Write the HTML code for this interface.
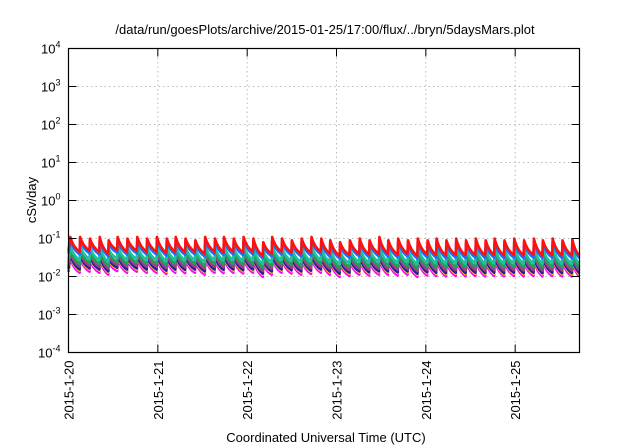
<!DOCTYPE html>
<html><head><meta charset="utf-8"><style>
html,body{margin:0;padding:0;background:#fff;}
svg{display:block;font-family:"Liberation Sans",sans-serif;}
</style></head><body>
<svg id="chart" width="640" height="448" viewBox="0 0 640 448" xmlns="http://www.w3.org/2000/svg">
<rect x="0" y="0" width="640" height="448" fill="#fff"/>
<text x="325" y="34" font-size="13" text-anchor="middle" fill="#000">/data/run/goesPlots/archive/2015-01-25/17:00/flux/../bryn/5daysMars.plot</text>
<text x="0" y="0" font-size="13" text-anchor="middle" transform="translate(36,200) rotate(-90)">cSv/day</text>
<text x="326" y="442" font-size="13" text-anchor="middle">Coordinated Universal Time (UTC)</text>
<g id="grid"></g>
<g id="series"></g>
<rect x="68.5" y="48.5" width="511" height="304" fill="none" stroke="#000" stroke-width="1.2"/>
<g id="ticks"></g>
</svg>
<script>
const yExponents = [-4,-3,-2,-1,0,1,2,3,4];
const xTickLabels = ["2015-1-20","2015-1-21","2015-1-22","2015-1-23","2015-1-24","2015-1-25"];
const xTickDays = [0,1,2,3,4,5];
const toothTimes = [0.02,0.13,0.24,0.35,0.45,0.55,0.66,0.77,0.88,0.99,1.10,1.20,1.31,1.42,1.53,1.64,1.74,1.85,1.96,2.07,2.18,2.28,2.39,2.50,2.61,2.72,2.83,2.93,3.04,3.15,3.26,3.37,3.48,3.58,3.69,3.80,3.91,4.02,4.12,4.23,4.34,4.45,4.56,4.67,4.77,4.88,4.99,5.10,5.21,5.31,5.42,5.53,5.64];
const toothPeaks = [0.11,0.11,0.10,0.11,0.09,0.11,0.10,0.11,0.10,0.11,0.10,0.11,0.10,0.09,0.11,0.10,0.11,0.10,0.11,0.10,0.08,0.11,0.10,0.09,0.10,0.11,0.10,0.09,0.08,0.09,0.10,0.09,0.11,0.09,0.10,0.09,0.10,0.09,0.10,0.09,0.10,0.09,0.10,0.09,0.10,0.09,0.10,0.09,0.10,0.09,0.10,0.09,0.095];
const toothTroughs = [0.045,0.048,0.045,0.04,0.05,0.045,0.048,0.045,0.045,0.042,0.045,0.044,0.045,0.04,0.045,0.044,0.045,0.043,0.045,0.035,0.04,0.045,0.043,0.04,0.042,0.045,0.04,0.035,0.037,0.04,0.038,0.04,0.04,0.038,0.04,0.035,0.038,0.037,0.036,0.037,0.036,0.037,0.036,0.037,0.036,0.037,0.036,0.037,0.036,0.037,0.036,0.036,0.036];
const seriesNames = ["magenta","yellow","navy","purple","green","teal","blue","red"];
const seriesColors = ["#ff00ff","#ffe000","#2020a0","#a04080","#20a060","#20c0a0","#1a6fff","#ff1010"];
const seriesScale = [0.28,0.32,0.34,0.4,0.48,0.6,0.85,1.0];

const X0=68.5, X1=579.5, Y0=48.5, Y1=352.5, DAYS=5.72;
const xs = d => X0 + (X1-X0)*d/DAYS;
const ys = v => Y1 - (Y1-Y0)*(Math.log10(v)+4)/8;
const NS="http://www.w3.org/2000/svg";
const grid=document.getElementById('grid'), ticks=document.getElementById('ticks'), ser=document.getElementById('series');
function mk(tag,attrs,parent){const e=document.createElementNS(NS,tag);for(const k in attrs)e.setAttribute(k,attrs[k]);parent.appendChild(e);return e;}

yExponents.forEach(e=>{
  const y=ys(Math.pow(10,e));
  if(e>-4&&e<4){const g=mk('line',{x1:X0,x2:X1,y1:y,y2:y,stroke:'#bbb','stroke-dasharray':'1.5,3','stroke-width':1},grid);
  
  }
  const t1=mk('line',{x1:X0,x2:X0+8,y1:y,y2:y,stroke:'#000'},ticks);
  
  
  const t2=mk('line',{x1:X1,x2:X1-8,y1:y,y2:y,stroke:'#000'},ticks);
  
  
  const tx=mk('text',{x:X0-8,y:y+5,'font-size':13,'text-anchor':'end'},ticks);
  
  
  tx.textContent='10';
  const sup=mk('tspan',{dy:-6,'font-size':9},tx);
  sup.textContent=String(e);
});
xTickDays.forEach((d,i)=>{
  const x=xs(d);
  if(d>0){const g=mk('line',{x1:x,x2:x,y1:Y0,y2:Y1,stroke:'#bbb','stroke-dasharray':'1.5,3','stroke-width':1},grid);
  
  }
  const t1=mk('line',{x1:x,x2:x,y1:Y1,y2:Y1-8,stroke:'#000'},ticks);
  
  
  const t2=mk('line',{x1:x,x2:x,y1:Y0,y2:Y0+8,stroke:'#000'},ticks);
  
  
  const tx=mk('text',{x:0,y:0,'font-size':13,'text-anchor':'end',transform:`translate(${x+5},${Y1+8}) rotate(-90)`},ticks);
  
  
  tx.textContent=xTickLabels[i];
});
seriesNames.forEach((name,s)=>{
  const k=seriesScale[s];
  let d='';
  toothTimes.forEach((t,i)=>{
    const tn = i+1<toothTimes.length ? toothTimes[i+1]-0.005 : DAYS;
    const xp=xs(t), yp=ys(toothPeaks[i]*k), xe=xs(Math.min(tn,DAYS)), ye=ys(toothTroughs[i]*k);
    d += (i===0?`M${xs(0)},${ys(toothTroughs[0]*k*1.05)} L`:' L')+`${xp},${yp} Q${xp+(xe-xp)*0.3},${yp+(ye-yp)*0.7} ${xe},${ye}`;
  });
  const p=mk('path',{d:d,fill:'none',stroke:seriesColors[s],'stroke-width':2.6,'stroke-linejoin':'round'},ser);
  
  
});
</script>
</body></html>
